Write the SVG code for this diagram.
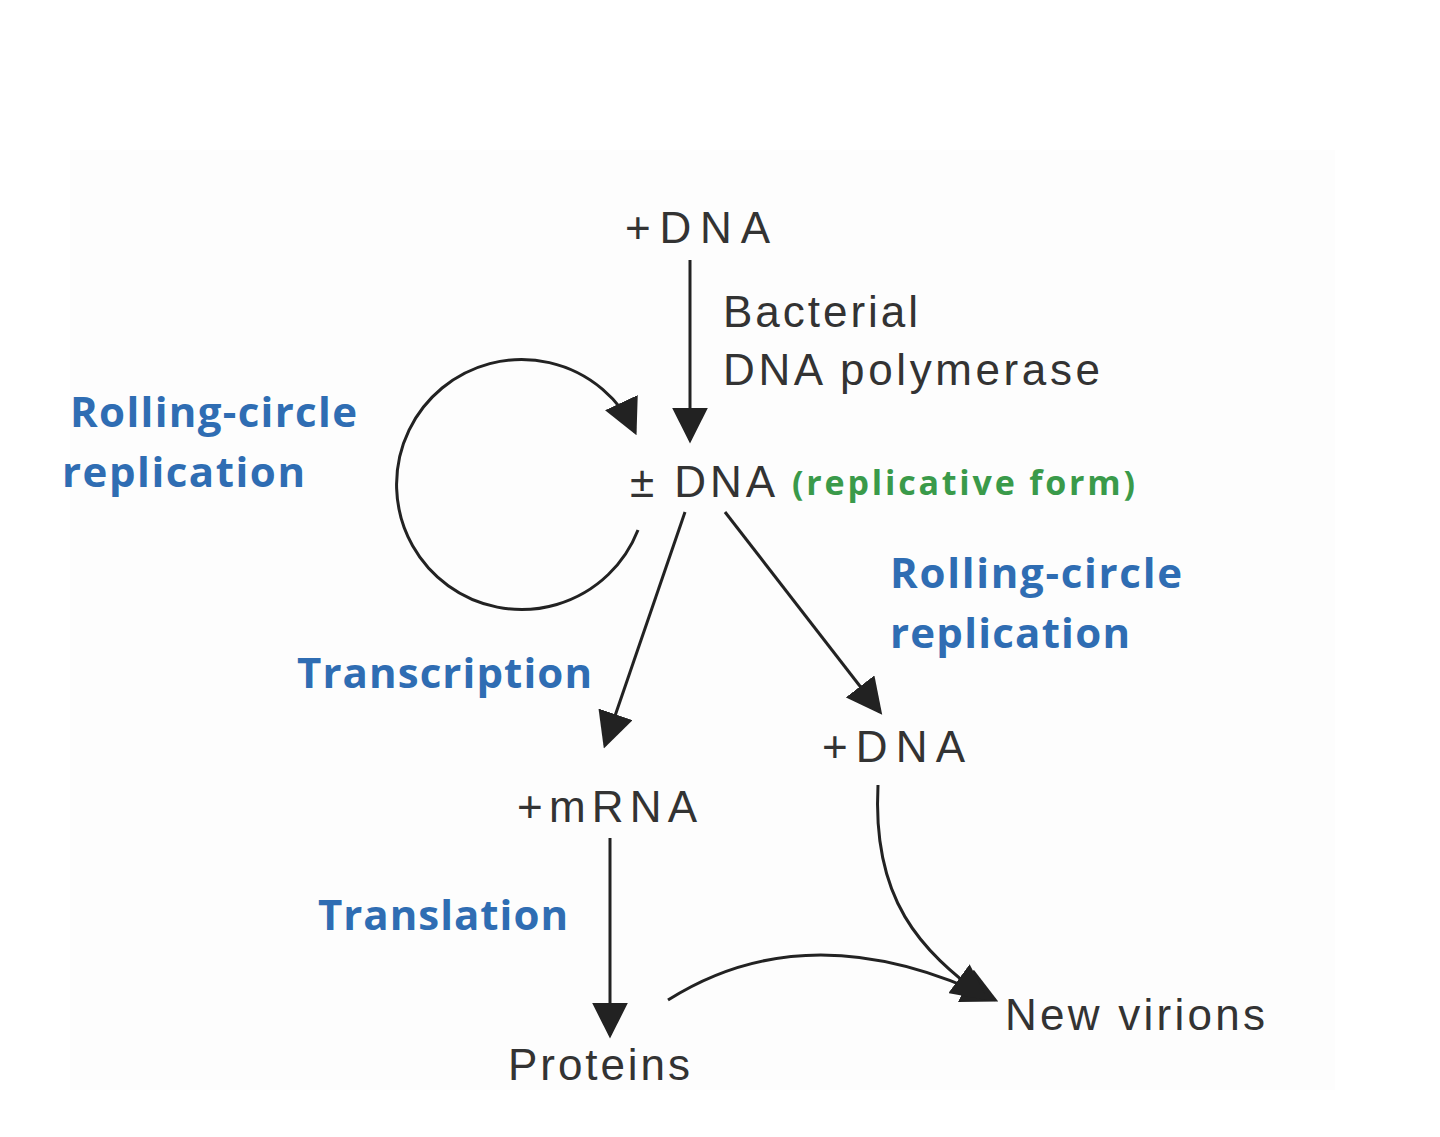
<svg xmlns="http://www.w3.org/2000/svg" width="1440" height="1137" viewBox="0 0 1440 1137">
<style>
.t{font-family:"Liberation Sans",Arial,sans-serif;font-size:44px;fill:#333}
.b{font-family:"Open Sans","Liberation Sans",sans-serif;font-weight:bold;font-size:42px;fill:#2f6db3}
.g{font-family:"Open Sans","Liberation Sans",sans-serif;font-weight:bold;font-size:34px;fill:#3a9a4a}
.c{fill:none;stroke:#222;stroke-width:3}
</style>
<defs>
<marker id="A" viewBox="0 0 10 10" refX="9" refY="5" markerWidth="12" markerHeight="12" orient="auto" markerUnits="strokeWidth"><path d="M0,0L10,5L0,10z" fill="#222"/></marker></defs>
<rect width="1440" height="1137" fill="#fff"/>
<rect x="70" y="150" width="1265" height="940" fill="#fdfdfd"/>
<g id="connectors">
<path class="c" d="M690,260V440" marker-end="url(#A)"/>
<path class="c" d="M638,530A125,125 0 1 1 635,432" marker-end="url(#A)"/>
<path class="c" d="M685,512L605,745" marker-end="url(#A)"/>
<path class="c" d="M725,512L880,712" marker-end="url(#A)"/>
<path class="c" d="M610,838V1035" marker-end="url(#A)"/>
<path class="c" d="M668,1000Q810,910 995,1000" marker-end="url(#A)"/>
<path class="c" d="M878,785C872,900 920,950 985,998" marker-end="url(#A)"/>
</g>
<g id="n1"><text class="t" x="625" y="243" textLength="145">+DNA</text></g>
<g id="l1"><text class="t" x="723" y="327" textLength="195">Bacterial</text><text class="t" x="723" y="385" textLength="377">DNA polymerase</text></g>
<g id="l2"><text class="b" x="70" y="427" textLength="287">Rolling-circle</text><text class="b" x="62" y="487" textLength="243">replication</text></g>
<g id="n2"><text class="t" x="630" y="497" textLength="145">± DNA</text><text class="g" x="792" y="495" textLength="343">(replicative form)</text></g>
<g id="l3"><text class="b" x="297" y="688" textLength="295">Transcription</text></g>
<g id="l4"><text class="b" x="890" y="588" textLength="292">Rolling-circle</text><text class="b" x="890" y="648" textLength="240">replication</text></g>
<g id="n3"><text class="t" x="822" y="762" textLength="143">+DNA</text></g>
<g id="n4"><text class="t" x="517" y="822" textLength="180">+mRNA</text></g>
<g id="l5"><text class="b" x="318" y="930" textLength="250">Translation</text></g>
<g id="n5"><text class="t" x="508" y="1080" textLength="182">Proteins</text></g>
<g id="n6"><text class="t" x="1005" y="1030" textLength="260">New virions</text></g>
</svg>
